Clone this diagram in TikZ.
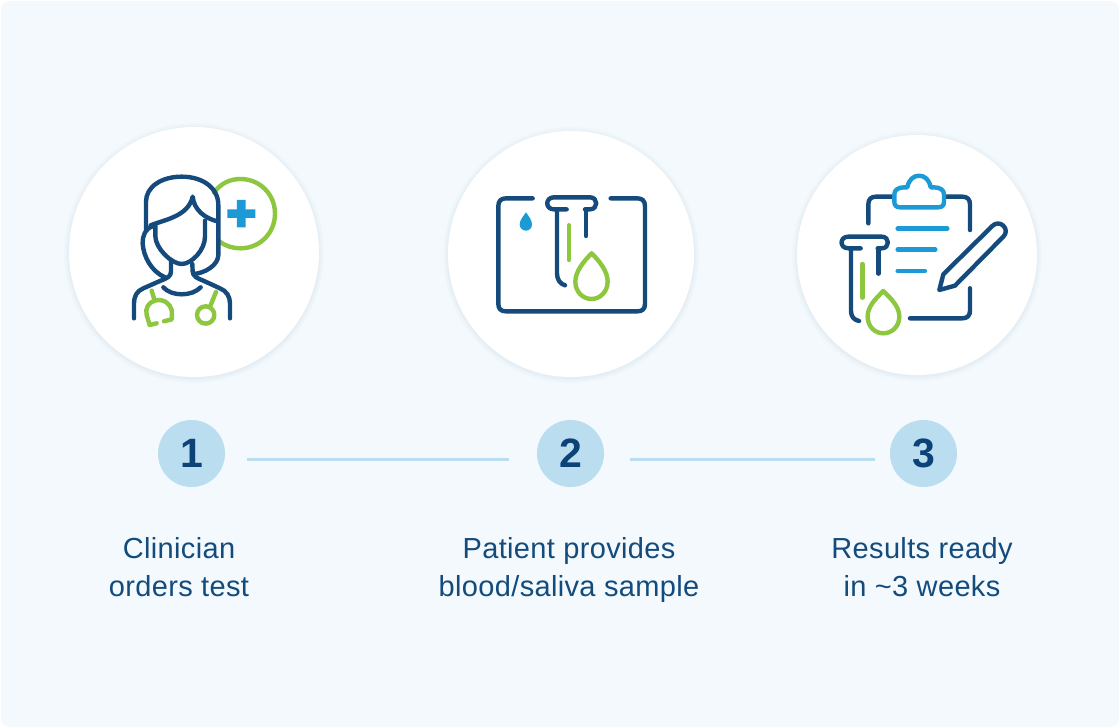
\documentclass[tikz,border=0pt]{standalone}
\usepackage{fontspec}
\setmainfont{Liberation Sans}
\definecolor{cardbg}{HTML}{F3F9FD}
\definecolor{navy}{HTML}{154A7D}
\definecolor{leaf}{HTML}{8DC63F}
\definecolor{sky}{HTML}{1C9AD6}
\definecolor{badge}{HTML}{BBDDF0}
\definecolor{txt}{HTML}{134B7C}
\definecolor{digit}{HTML}{0B4277}
\definecolor{halo}{HTML}{DCE8F0}
\tikzset{
  x=1pt,y=-1pt,
  disc/.style={circle,fill=white,minimum size=#1,inner sep=0pt},
  badgenode/.style={circle,fill=badge,minimum size=67pt,inner sep=0pt,text=digit,font=\fontsize{41}{41}\selectfont\bfseries},
  caption/.style={align=center,text=txt,inner sep=0pt,font=\fontsize{29}{38}\selectfont\addfontfeature{LetterSpace=1.2}},
  link/.style={draw=badge,line width=3pt},
  ico/.style={line width=4.4pt,line cap=round,line join=round},
  icoN/.style={ico,draw=navy},
  icoG/.style={ico,draw=leaf},
  icoB/.style={ico,draw=sky},
}
\begin{document}
\begin{tikzpicture}
\useasboundingbox (0,0) rectangle (1120,728);
\fill[white] (0,0) rectangle (1120,728);
\fill[cardbg,rounded corners=8pt] (1,1) rectangle (1119,727);
% soft halos
\foreach \cx/\cy/\r in {194/252/125,571/254/123,917/255/120}{
  \foreach \e/\o in {5/0.1,3.5/0.15,2/0.2,1/0.3}{
    \fill[halo,opacity=\o] (\cx,\cy+1) circle[radius=\r+\e];
  }
}
\node[disc=250pt] (c1) at (194,252) {};
\node[disc=246pt] (c2) at (571,254) {};
\node[disc=240pt] (c3) at (917,255) {};
% icon 1 : clinician
\begin{scope}[shift={(110,160)},x=0.3333pt,y=-0.3333pt]
\draw[icoG] (312,98) .. controls (332,70) and (360,57) .. (391,57)
  .. controls (450,57) and (495,103) .. (495,161)
  .. controls (495,219) and (450,265) .. (391,265)
  .. controls (368,265) and (345,258) .. (327,243);
\fill[sky] (381,120) -- (407,120) -- (407,148) -- (436,148) -- (436,174) -- (407,174) -- (407,202) -- (381,202) -- (381,174) -- (352,174) -- (352,148) -- (381,148) -- cycle;
\draw[icoN] (108,208) -- (108,125) .. controls (108,80) and (155,50) .. (215,50)
  .. controls (280,50) and (325,85) .. (325,135) -- (325,285)
  .. controls (325,315) and (285,340) .. (250,342);
\draw[icoN] (122,196) .. controls (160,180) and (235,170) .. (248,110)
  .. controls (252,150) and (285,175) .. (322,184);
\draw[icoN] (130,198) .. controls (105,205) and (97,230) .. (98,250)
  .. controls (100,290) and (125,335) .. (165,352);
\draw[icoN] (136,197) -- (136,228) .. controls (136,265) and (185,312) .. (215,312)
  .. controls (245,312) and (285,270) .. (285,230) -- (285,182);
\draw[icoN] (183,300) -- (183,335) .. controls (183,350) and (170,355) .. (150,363)
  -- (100,385) .. controls (80,393) and (72,410) .. (72,430) -- (72,475);
\draw[icoN] (247,312) -- (248,335) .. controls (250,350) and (262,355) .. (280,362)
  -- (330,385) .. controls (350,393) and (360,410) .. (360,430) -- (360,475);
\draw[icoN] (160,382) .. controls (185,410) and (245,410) .. (272,382);
\draw[icoG] (125,392) -- (134,422) .. controls (115,428) and (105,445) .. (110,465)
  -- (119,495) -- (140,490);
\draw[icoG] (134,422) .. controls (160,415) and (180,430) .. (185,450) -- (186,478) -- (162,484);
\draw[icoG] (318,396) -- (301,438);
\draw[icoG] (287,465) circle[radius=26];
\end{scope}
% icon 2 : sample
\begin{scope}[shift={(480,180)},x=0.3333pt,y=-0.3333pt]
\draw[icoN] (158,55) -- (78,55) .. controls (63,55) and (55,63) .. (55,78) -- (55,372)
  .. controls (55,387) and (63,394) .. (78,394) -- (472,394)
  .. controls (487,394) and (495,387) .. (495,372) -- (495,78)
  .. controls (495,63) and (487,55) .. (472,55) -- (392,55);
\draw[icoN] (260,88) -- (222,88) .. controls (195,88) and (195,52) .. (222,52) -- (330,52)
  .. controls (355,52) and (355,88) .. (330,88) -- (315,88);
\draw[icoN] (231,88) -- (231,280) .. controls (231,298) and (240,312) .. (255,316);
\draw[icoN] (318,88) -- (318,168);
\draw[icoG] (267,136) -- (267,240);
\draw[icoG] (335,220) .. controls (360,245) and (383,275) .. (383,305)
  .. controls (383,335) and (360,357) .. (335,357)
  .. controls (308,357) and (286,335) .. (286,305)
  .. controls (286,275) and (310,245) .. (335,220) -- cycle;
\fill[sky] (138,97) .. controls (145,107) and (156,120) .. (156,133)
  .. controls (156,144) and (148,152) .. (138,152)
  .. controls (128,152) and (119,144) .. (119,133)
  .. controls (119,120) and (131,107) .. (138,97) -- cycle;
\end{scope}
% icon 3 : results
\begin{scope}[shift={(830,165)},x=0.3333pt,y=-0.3333pt]
\draw[icoN] (115,175) -- (115,118) .. controls (115,103) and (123,95) .. (138,95) -- (190,95);
\draw[icoN] (345,95) -- (397,95) .. controls (412,95) and (420,103) .. (420,118) -- (420,195);
\draw[icoN] (420,370) -- (420,437) .. controls (420,452) and (412,460) .. (397,460) -- (240,460);
\draw[icoB] (210,127) -- (325,127) .. controls (337,127) and (342,120) .. (342,110) -- (342,88)
  .. controls (342,75) and (330,67) .. (312,67) -- (302,67)
  .. controls (298,45) and (285,32) .. (267,32)
  .. controls (250,32) and (236,45) .. (232,67) -- (222,67)
  .. controls (205,67) and (193,75) .. (193,88) -- (193,110)
  .. controls (193,120) and (198,127) .. (210,127) -- cycle;
\draw[icoB] (203,191) -- (352,191);
\draw[icoB] (203,254) -- (316,254);
\draw[icoB] (203,318) -- (285,318);
\draw[icoN] (328,375) -- (340,328) -- (487,183) .. controls (497,173) and (510,173) .. (520,182)
  .. controls (530,192) and (530,205) .. (520,215) -- (375,362) -- cycle;
\draw[icoN] (92,250) -- (55,250) .. controls (28,250) and (28,215) .. (55,215) -- (155,215)
  .. controls (180,215) and (180,250) .. (155,250) -- (143,250);
\draw[icoN] (63,250) -- (63,438) .. controls (63,455) and (72,465) .. (87,468);
\draw[icoN] (145,250) -- (145,326);
\draw[icoG] (97,297) -- (97,398);
\draw[icoG] (160,378) .. controls (185,403) and (208,425) .. (208,455)
  .. controls (208,485) and (185,505) .. (160,505)
  .. controls (135,505) and (113,485) .. (113,455)
  .. controls (113,425) and (135,403) .. (160,378) -- cycle;
\end{scope}
% steps
\node[badgenode] (n1) at (191.5,453.5) {\raisebox{-1pt}{1}};
\node[badgenode] (n2) at (570.5,453.5) {\raisebox{-1pt}{2}};
\node[badgenode] (n3) at (923.5,453.5) {\raisebox{-1pt}{3}};
\coordinate (a1) at (247,459); \coordinate (b1) at (509,459);
\coordinate (a2) at (630,459); \coordinate (b2) at (875,459);
\draw[link] (a1) -- (b1);
\draw[link] (a2) -- (b2);
\node[caption] (t1) at (179,570) {\strut Clinician\\\strut orders test};
\node[caption] (t2) at (569,570) {\strut Patient provides\\\strut blood/saliva sample};
\node[caption] (t3) at (922,570) {\strut Results ready\\\strut in \textasciitilde3 weeks};
\end{tikzpicture}
\end{document}
